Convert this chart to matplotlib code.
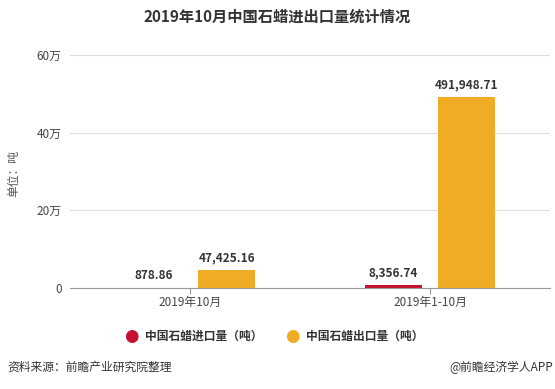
import matplotlib.pyplot as plt
import numpy as np

plt.rcParams['font.family'] = ['Noto Sans CJK SC', 'DejaVu Sans']

categories = ['2019年10月', '2019年1-10月']
imports = [878.86, 8356.74]
exports = [47425.16, 491948.71]
series_names = ['中国石蜡进口量（吨）', '中国石蜡出口量（吨）']
yticks = [0, 200000, 400000, 600000]
ytick_labels = ['0', '20万', '40万', '60万']

red = '#c41230'
orange = '#f0ac24'

fig = plt.figure(figsize=(5.55, 3.89), dpi=100)
ax = fig.add_axes([70/555, 0.2596, 480/555, 0.599])

x = np.arange(len(categories))
w = 0.237
off = 0.153
b1 = ax.bar(x - off, imports, w, color=red)
b2 = ax.bar(x + off, exports, w, color=orange)

for bars, vals in ((b1, imports), (b2, exports)):
    for r, v in zip(bars, vals):
        ax.text(r.get_x() + r.get_width()/2, v + 14000, f'{v:,.2f}',
                ha='center', va='bottom', fontsize=8.5, fontweight='bold', color='#333333')

ax.set_xlim(-0.5, 1.5)
ax.set_ylim(0, 600000)
ax.set_yticks(yticks)
ax.set_yticklabels(ytick_labels, fontsize=8.5, color='#444444')
ax.set_xticks(x)
ax.set_xticklabels(categories, fontsize=8.5, color='#444444')
ax.tick_params(axis='y', length=0, pad=6)
ax.tick_params(axis='x', length=4, color='#999999', pad=2)
ax.grid(axis='y', color='#dddddd', linewidth=0.8)
ax.set_axisbelow(True)
for s in ['top', 'right', 'left']:
    ax.spines[s].set_visible(False)
ax.spines['bottom'].set_color('#999999')

fig.text(14/555, 1 - 173/389, '单位：吨', rotation=90, ha='center', va='center',
         fontsize=8.5, color='#555555')

fig.text(0.5, 1 - 17/389, '2019年10月中国石蜡进出口量统计情况', ha='center', va='center',
         fontsize=11, fontweight='bold', color='#333333')

# legend
for cx, col, name in ((131, red, series_names[0]), (292, orange, series_names[1])):
    fig.text(cx/555, 1 - 336/389, '●', ha='center', va='center', fontsize=12, color=col,
             family='DejaVu Sans')
    fig.text((cx + 14)/555, 1 - 336/389, name, ha='left', va='center', fontsize=8.5,
             fontweight='bold', color='#333333')

fig.text(7/555, 1 - 367/389, '资料来源：前瞻产业研究院整理', ha='left', va='center',
         fontsize=8.5, color='#333333')
fig.text(553/555, 1 - 367/389, '@前瞻经济学人APP', ha='right', va='center',
         fontsize=8.5, color='#333333')

fig.savefig('out.png', dpi=100)
